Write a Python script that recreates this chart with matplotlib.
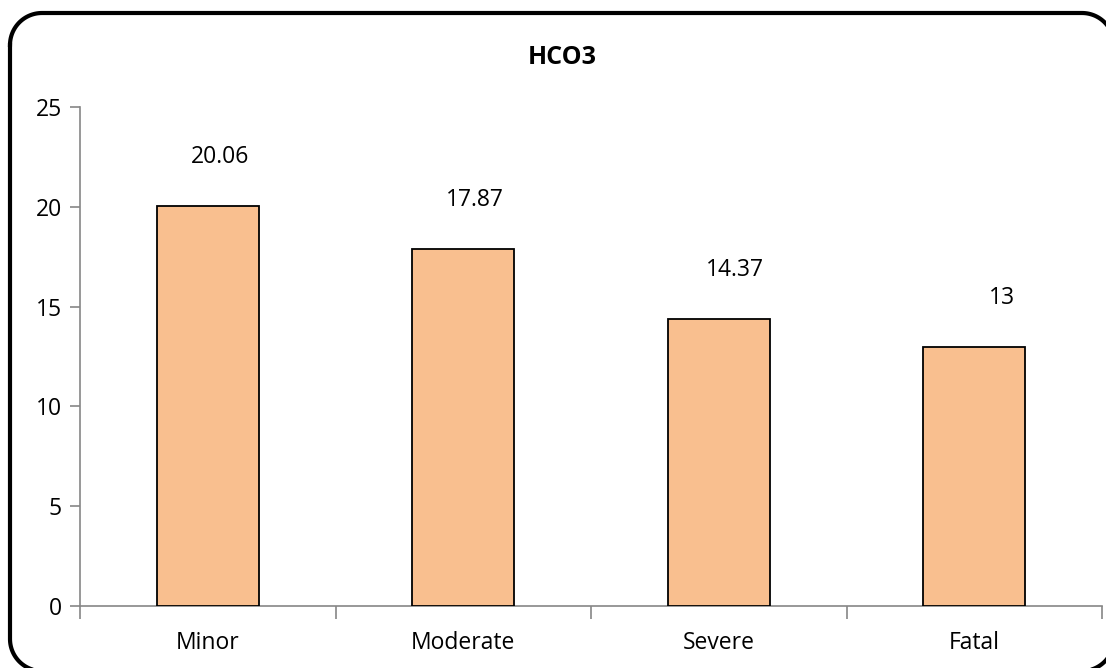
import matplotlib
matplotlib.use("Agg")
import matplotlib.pyplot as plt
import numpy as np
from matplotlib.ticker import FixedLocator

categories = ["Minor", "Moderate", "Severe", "Fatal"]
values = [20.06, 17.87, 14.37, 13]
value_labels = ["20.06", "17.87", "14.37", "13"]
yticks = [0, 5, 10, 15, 20, 25]

plt.rcParams['font.family'] = ['Open Sans', 'DejaVu Sans']

W, H = 1106, 668
fig = plt.figure(figsize=(W / 100, H / 100), dpi=100)
fig.patch.set_facecolor('white')

# background axes in pixel coordinates (y down) for the rounded frame
bg = fig.add_axes([0, 0, 1, 1])
bg.set_xlim(0, W)
bg.set_ylim(H, 0)
bg.axis('off')
left, top, right, bottom, r = 10, 13, 1114, 671, 32
xs, ys = [], []
for cx, cy, a0 in [(left + r, top + r, 180), (right - r, top + r, 270),
                   (right - r, bottom - r, 0), (left + r, bottom - r, 90)]:
    th = np.radians(np.linspace(a0, a0 + 90, 30))
    xs.extend(cx + r * np.cos(th))
    ys.extend(cy + r * np.sin(th))
xs.append(xs[0]); ys.append(ys[0])
bg.plot(xs, ys, color='black', linewidth=3, solid_joinstyle='round')

ax = fig.add_axes([80 / W, 1 - 606 / H, (1102 - 80) / W, (606 - 107) / H])
x = list(range(len(categories)))
bars = ax.bar(x, values, width=0.4, color='#F9BF8F', edgecolor='black', linewidth=1.3, zorder=3)

ax.set_xlim(-0.5, len(categories) - 0.5)
ax.set_ylim(0, 25)
ax.set_yticks(yticks)
ax.set_yticklabels([str(t) for t in yticks], fontsize=16.5)
ax.set_xticks(x)
ax.set_xticklabels(categories, fontsize=16.5)
ax.tick_params(axis='x', which='major', length=0, pad=18)
ax.xaxis.set_minor_locator(FixedLocator([i - 0.5 for i in range(len(categories) + 1)]))
ax.tick_params(axis='x', which='minor', length=9, color='#868686', width=1.2, direction='out')
ax.tick_params(axis='y', length=7, color='#868686', width=1.2, pad=6)
ax.patch.set_alpha(0)

for s in ['top', 'right']:
    ax.spines[s].set_visible(False)
for s in ['left', 'bottom']:
    ax.spines[s].set_color('#868686')
    ax.spines[s].set_linewidth(1.2)

offsets = [12, 12, 16, 28]
for xi, v, lab, off in zip(x, values, value_labels, offsets):
    ax.annotate(lab, xy=(xi, v), xytext=(off * 0.72, 49 * 0.72), textcoords='offset points',
                ha='center', va='center', fontsize=16.5)

fig.text(562 / W, 1 - 57 / H, "HCO3", ha='center', va='center', fontsize=18, fontweight='bold')

fig.savefig("out.png", dpi=100)
